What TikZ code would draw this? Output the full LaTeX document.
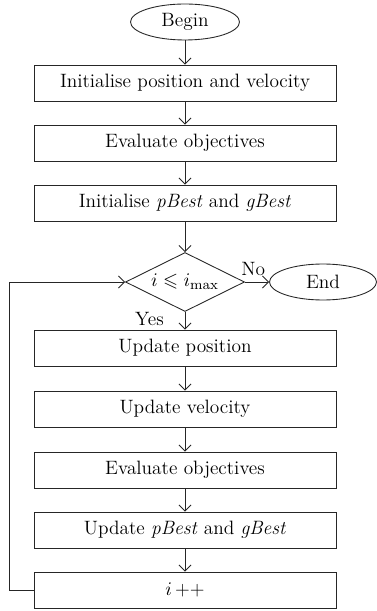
\documentclass[tikz,border=0pt]{standalone}
\usepackage{amsmath, amssymb}
\usetikzlibrary{shapes, arrows.meta, positioning}

\begin{document}
\begin{tikzpicture}[
  stepbox/.style={draw, minimum width=6.04cm, minimum height=0.72cm, inner sep=2pt},
  terminal/.style={draw, ellipse, minimum width=#1, minimum height=0.72cm, inner sep=1pt},
  decision/.style={draw, diamond, aspect=2, minimum width=2.38cm, minimum height=1.18cm, inner sep=0pt},
  flow/.style={-{Straight Barb[length=1.2mm, width=2.4mm]}, line width=0.5pt, draw=black!85},
  every node/.style={line width=0.5pt, draw=black!85, font=\fontsize{11}{13}\selectfont},
]
  \useasboundingbox (0,0) rectangle (7.54,-12.22);
  \node[terminal=2.18cm] (begin) at (3.70,-0.44) {Begin};
  \node[stepbox] (initpv) at (3.70,-1.66) {Initialise position and velocity};
  \node[stepbox] (evalA) at (3.70,-2.86) {Evaluate objectives};
  \node[stepbox] (initbest) at (3.70,-4.06) {Initialise \textit{pBest} and \textit{gBest}};
  \node[decision] (cond) at (3.70,-5.64) {$i \leqslant i_{\max}$};
  \node[terminal=2.14cm] (finish) at (6.46,-5.64) {End};
  \node[stepbox] (updpos) at (3.70,-6.96) {Update position};
  \node[stepbox] (updvel) at (3.70,-8.18) {Update velocity};
  \node[stepbox] (evalB) at (3.70,-9.40) {Evaluate objectives};
  \node[stepbox] (updbest) at (3.70,-10.60) {Update \textit{pBest} and \textit{gBest}};
  \node[stepbox] (incr) at (3.70,-11.80) {$i$\,++};

  \draw[flow] (begin) -- (initpv);
  \draw[flow] (initpv) -- (evalA);
  \draw[flow] (evalA) -- (initbest);
  \draw[flow] (initbest) -- (cond);
  \draw[flow] (cond) -- node[above, pos=0.34, draw=none] {No} (finish);
  \draw[flow] (cond) -- node[left, pos=0.4, xshift=-0.3cm, draw=none] {Yes} (updpos);
  \draw[flow] (updpos) -- (updvel);
  \draw[flow] (updvel) -- (evalB);
  \draw[flow] (evalB) -- (updbest);
  \draw[flow] (updbest) -- (incr);
  \draw[flow] (incr.west) -- ++(-0.48,0) |- (cond.west);
\end{tikzpicture}
\end{document}
